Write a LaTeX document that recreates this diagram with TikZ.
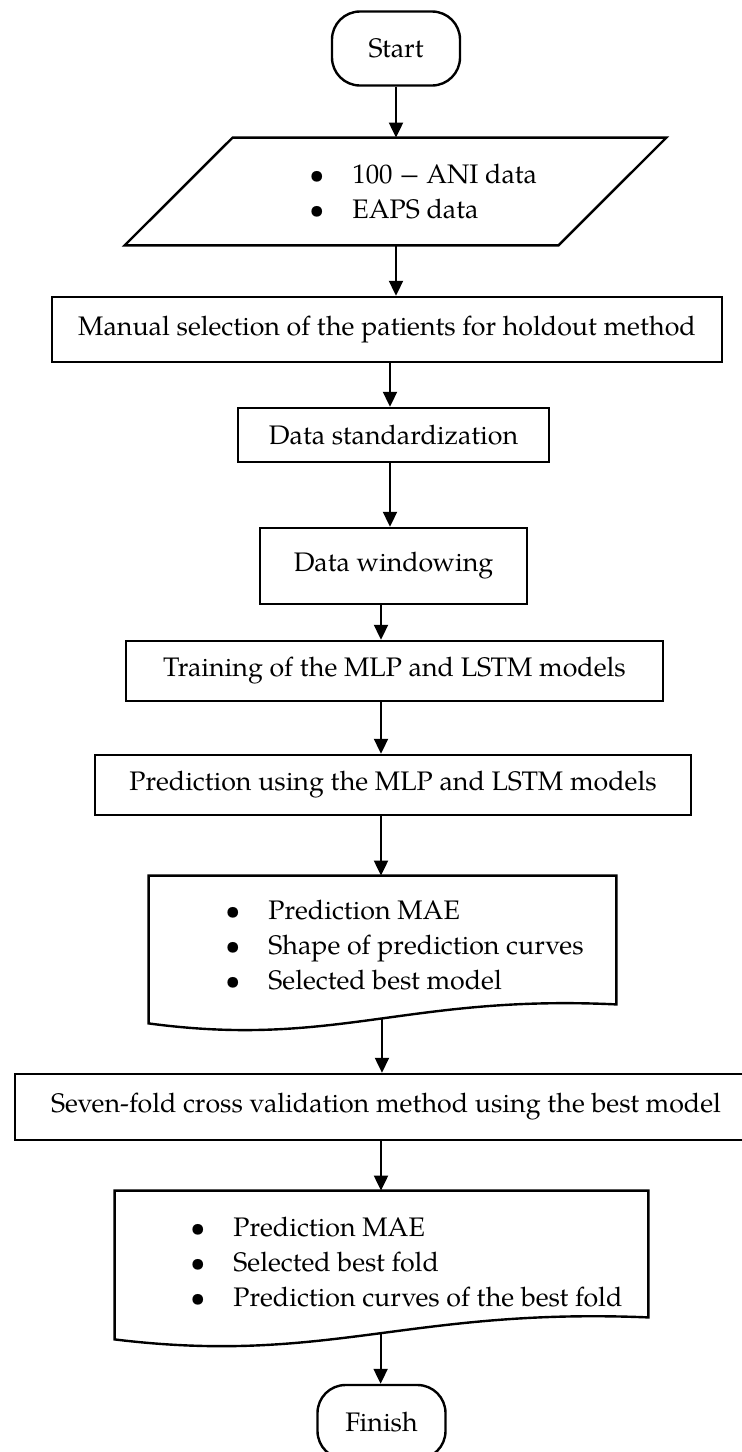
\documentclass[tikz,border=0pt]{standalone}
\usepackage{fontspec}
\setmainfont{TeX Gyre Pagella}
\usetikzlibrary{positioning, calc, arrows.meta}

\tikzset{
  box/.style={draw, line width=1.2pt, inner sep=0pt, minimum height=30pt},
  term/.style={draw, line width=1.2pt, rounded corners=14pt, minimum width=64pt, minimum height=37pt},
  frame/.style={inner sep=0pt},
  shp/.style={line width=1.2pt},
  lst/.style={align=left, inner sep=0pt, anchor=west},
  arr/.style={line width=1pt, -{Triangle[length=7.5pt, width=7pt]}},
}
\newcommand{\itm}{\makebox[21.5pt][l]{\textbullet}}

\begin{document}
\begin{tikzpicture}[x=0.5pt, y=-0.5pt, font=\fontsize{13.4}{17.5}\selectfont]
        \useasboundingbox (0,0) rectangle (742,1452);
        % terminals and process boxes
        \node[term] (start) at (396,48.5) {Start};
        \node[box, minimum width=335pt, minimum height=32.5pt] (manual) at (387,329.5) {Manual selection of the patients for holdout method};
        \node[box, minimum width=155.5pt, minimum height=27pt] (std) at (393.5,435) {Data standardization};
        \node[box, minimum width=133.5pt, minimum height=38pt] (win) at (393.5,566) {Data windowing};
        \node[box, minimum width=268.5pt] (train) at (394.5,671) {Training of the MLP and LSTM models};
        \node[box, minimum width=298pt] (pred) at (393,785) {Prediction using the MLP and LSTM models};
        \node[box, minimum width=371pt, minimum height=33pt] (seven) at (386,1107) {Seven-fold cross validation method using the best model};
        \node[term] (finish) at (381.5,1422) {Finish};
        % input data
        \node[frame, minimum width=216.5pt, minimum height=53.5pt] (data) at (395.5,191.5) {};
        \draw[shp] ($(data.north west)+(54,0)$) -- ($(data.north east)+(54,0)$) -- ($(data.south east)+(-54,0)$) -- ($(data.south west)+(-54,0)$) -- cycle;
        \node[lst] (datatxt) at (309,192) {\itm 100 − ANI data\\ \itm EAPS data};
        % documents
        \node[frame, minimum width=233.5pt, minimum height=64pt] (doc1) at (382.5,940) {};
        \draw[shp] (doc1.south east) -- (doc1.north east) -- (doc1.north west) -- ($(doc1.south west)+(0,19)$)
            .. controls ($(doc1.south west)+(187,44)$) and ($(doc1.south east)+(-210,-10)$) .. (doc1.south east) coordinate[pos=0.52] (doc1w) -- cycle;
        \node[lst] (doc1txt) at (225,945) {\itm Prediction MAE\\ \itm Shape of prediction curves\\ \itm Selected best model};
        \node[frame, minimum width=266.5pt, minimum height=63pt] (doc2) at (381.5,1254) {};
        \draw[shp] (doc2.south east) -- (doc2.north east) -- (doc2.north west) -- ($(doc2.south west)+(0,22)$)
            .. controls ($(doc2.south west)+(213,48)$) and ($(doc2.south east)+(-240,-10)$) .. (doc2.south east) coordinate[pos=0.52] (doc2w) -- cycle;
        \node[lst] (doc2txt) at (190,1262) {\itm Prediction MAE\\ \itm Selected best fold\\ \itm Prediction curves of the best fold};
        % connectors
        \foreach \a/\b/\x in {start/data/396, data/manual/396, manual/std/390, std/win/390, win/train/381, train/pred/381, pred/doc1/381, seven/doc2/381}
            \draw[arr] (\a.south -| \x,0) -- (\b.north -| \x,0);
        \draw[arr] (doc1w) -- (doc1w |- seven.north);
        \draw[arr] (doc2w) -- (doc2w |- finish.north);
    \end{tikzpicture}
\end{document}
